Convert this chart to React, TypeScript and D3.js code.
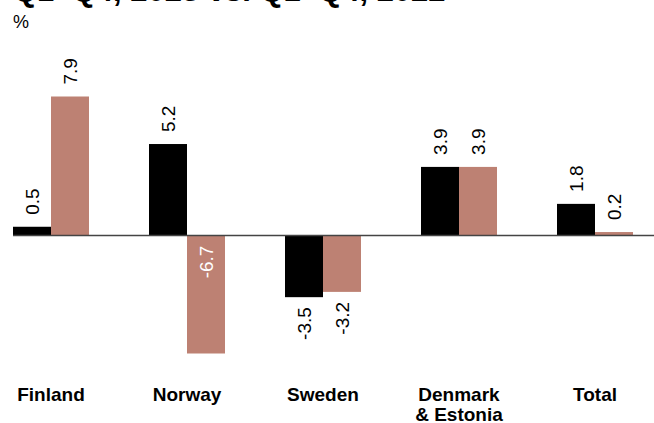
import { useEffect, useRef } from "react";
import * as d3 from "d3";

const categories = ["Finland", "Norway", "Sweden", "Denmark\n& Estonia", "Total"];
const series = ["Q1–Q4, 2023", "Q1–Q4, 2022"];
const values2023 = [0.5, 5.2, -3.5, 3.9, 1.8];
const values2022 = [7.9, -6.7, -3.2, 3.9, 0.2];

const title = "Q1–Q4, 2023 vs. Q1–Q4, 2022";
const unit = "%";

const colors = ["#000000", "#bd8173"];
const font = "'Liberation Sans', Arial, Helvetica, sans-serif";

export default function App() {
  const width = 654;
  const height = 423;
  const svgRef = useRef<SVGSVGElement>(null);

  useEffect(() => {
    const svg = d3.select(svgRef.current);
    svg.selectAll("*").remove();

    const rows = categories.map((c, i) => ({
      category: c,
      values: [values2023[i], values2022[i]],
    }));

    const x0 = d3
      .scaleBand<string>()
      .domain(categories)
      .range([13, 633])
      .paddingInner(60 / 136)
      .paddingOuter(0);
    const x1 = d3
      .scaleBand<string>()
      .domain(series)
      .range([0, x0.bandwidth()])
      .padding(0);
    const y = d3.scaleLinear().domain([-6.7, 7.9]).range([353.5, 96.5]);

    // title (cropped at the top of the picture)
    svg
      .append("text")
      .attr("x", 13)
      .attr("y", 1)
      .attr("font-family", font)
      .attr("font-weight", "bold")
      .attr("font-size", 31)
      .text(title);

    svg
      .append("text")
      .attr("x", 13)
      .attr("y", 28)
      .attr("font-family", font)
      .attr("font-size", 18)
      .text(unit);

    const groups = svg
      .append("g")
      .selectAll("g")
      .data(rows)
      .join("g")
      .attr("transform", (d) => `translate(${x0(d.category)},0)`);

    const bars = groups
      .selectAll("g")
      .data((d) => d.values.map((v, j) => ({ value: v, key: series[j], j })))
      .join("g");

    bars
      .append("rect")
      .attr("x", (d) => x1(d.key)!)
      .attr("width", x1.bandwidth())
      .attr("y", (d) => Math.min(y(d.value), y(0)))
      .attr("height", (d) => Math.abs(y(d.value) - y(0)))
      .attr("fill", (d) => colors[d.j]);

    // value labels, rotated; hyphen as minus sign like the original
    const fmt = (v: number) => d3.format(".1f")(v).replace("−", "-");
    const gap = 12;
    const plotBottom = 362;
    bars
      .append("text")
      .attr("font-family", font)
      .attr("font-size", 19)
      .attr("dominant-baseline", "central")
      .each(function (d) {
        const t = d3.select(this);
        const cx = x1(d.key)! + x1.bandwidth() / 2;
        const label = fmt(d.value);
        let yy: number;
        let anchor = "end";
        let fill = "#000";
        if (d.value >= 0) {
          yy = y(d.value) - gap;
          anchor = "start";
        } else if (y(d.value) + gap + label.length * 10 > plotBottom) {
          // no room below: put it inside the bar
          yy = y(0) + 10;
          fill = "#ffffff";
        } else {
          yy = y(d.value) + gap - 2;
        }
        t.attr("transform", `translate(${cx},${yy}) rotate(-90)`)
          .attr("text-anchor", anchor)
          .attr("fill", fill)
          .text(label);
      });

    // zero line
    svg
      .append("line")
      .attr("x1", 13)
      .attr("x2", width)
      .attr("y1", y(0))
      .attr("y2", y(0))
      .attr("stroke", "#444")
      .attr("stroke-width", 1.5);

    // category labels
    svg
      .append("g")
      .selectAll("text")
      .data(categories)
      .join("text")
      .attr("x", (d) => x0(d)! + x0.bandwidth() / 2)
      .attr("y", 401)
      .attr("text-anchor", "middle")
      .attr("font-family", font)
      .attr("font-weight", "bold")
      .attr("font-size", 19)
      .selectAll("tspan")
      .data((d) => d.split("\n"))
      .join("tspan")
      .attr("x", function () {
        return (this.parentNode as SVGTextElement).getAttribute("x");
      })
      .attr("dy", (_, i) => (i === 0 ? 0 : 20))
      .text((d) => d);
  }, []);

  return (
    <div style={{ position: "absolute", left: 0, top: 0 }}>
      <svg ref={svgRef} width={width} height={height} style={{ display: "block" }}></svg>
    </div>
  );
}
